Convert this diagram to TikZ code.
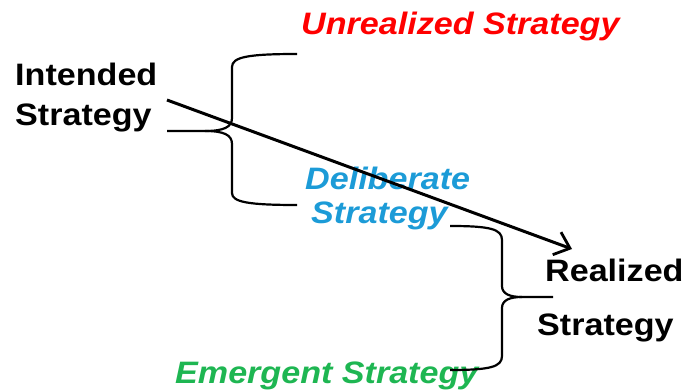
\documentclass[tikz,border=0pt]{standalone}
\usepackage{fontspec}
\setmainfont{Liberation Sans}[FakeStretch=1.1]
\usetikzlibrary{arrows.meta}

\definecolor{unrealred}{RGB}{255,0,0}
\definecolor{delibblue}{RGB}{28,155,215}
\definecolor{emerggreen}{RGB}{30,182,82}

\tikzset{
	lbl/.style={anchor=base west, inner sep=0pt, font=\fontsize{31}{34}\selectfont\bfseries},
	ilbl/.style={lbl, font=\fontsize{31}{34}\selectfont\bfseries\itshape},
	brace/.style={draw, line width=2.2pt},
	flow/.style={draw, line width=3pt, -{Straight Barb[length=14pt, width=24pt, line width=2.8pt]}}
}

\begin{document}
\begin{tikzpicture}[x=1pt, y=-1pt]
	\useasboundingbox (0,0) rectangle (686,390);

	%labels
	\node[lbl] (int1) at (15,86){Intended};
	\node[lbl] (int2) at (15,126){Strategy};
	\node[ilbl, text=unrealred] (unreal) at (301,35){Unrealized Strategy};
	\node[ilbl, text=delibblue] (delib1) at (305,190){Deliberate};
	\node[ilbl, text=delibblue] (delib2) at (311,224){Strategy};
	\node[lbl] (real1) at (545,282){Realized};
	\node[lbl] (real2) at (537,335){Strategy};
	\node[ilbl, text=emerggreen] (emerg) at (175,383){Emergent Strategy};

	%brace ends
	\coordinate (b1tail) at (167,131);
	\coordinate (b1tip) at (205,131);
	\coordinate (b1top) at (297,54);
	\coordinate (b1bot) at (297,205);
	\coordinate (b2top) at (450,226);
	\coordinate (b2bot) at (450,370);
	\coordinate (b2tip) at (522,297);
	\coordinate (b2tail) at (553,297);

	%first brace
	\draw[brace] (b1tail) -- (b1tip)
		.. controls (224,131) and (232,127) .. (232,118) -- (232,67)
		.. controls (232,57) and (248,54) .. (b1top);
	\draw[brace] (b1tip)
		.. controls (224,131) and (232,135) .. (232,144) -- (232,193)
		.. controls (232,202) and (248,205) .. (b1bot);

	%second brace
	\draw[brace] (b2top)
		.. controls (490,226) and (502,229) .. (502,240) -- (502,286)
		.. controls (502,294) and (510,297) .. (b2tip) -- (b2tail);
	\draw[brace] (b2tip)
		.. controls (510,297) and (502,300) .. (502,308) -- (502,356)
		.. controls (502,367) and (490,370) .. (b2bot);

	%intended to realized
	\coordinate (arrstart) at (167,100);
	\coordinate (arrend) at (572,249);
	\draw[flow] (arrstart) -- (arrend);

\end{tikzpicture}
\end{document}
